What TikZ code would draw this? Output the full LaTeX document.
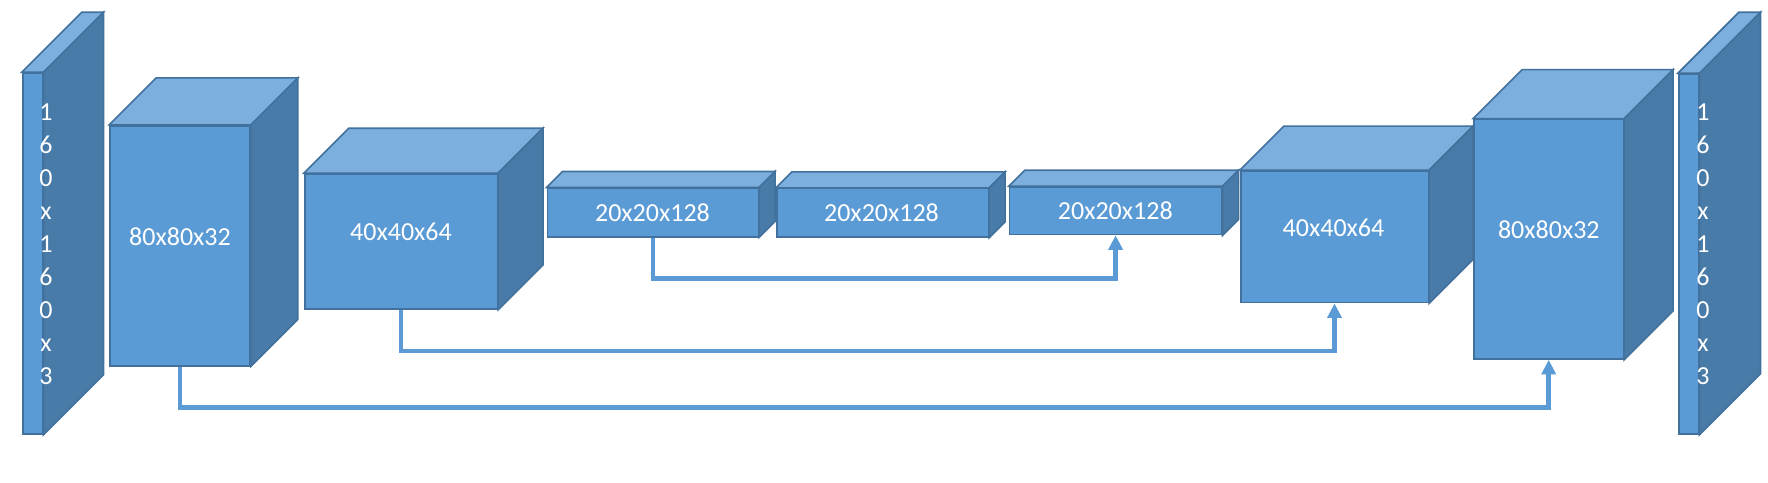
\documentclass[tikz,border=0pt]{standalone}
\usepackage{fontspec}
\setmainfont{Carlito}
\usepackage{tikz}
\usetikzlibrary{arrows.meta}
\definecolor{frontblue}{HTML}{5B9BD5}
\definecolor{topblue}{HTML}{7DAFDE}
\definecolor{sideblue}{HTML}{497BA9}
\definecolor{edgeblue}{HTML}{41719C}
\tikzstyle{front} = [rectangle, draw=edgeblue, fill=frontblue,
    line width=1.6pt, inner sep=0pt]
\tikzstyle{topface} = [draw=edgeblue, fill=topblue, line width=1.6pt]
\tikzstyle{sideface} = [draw=edgeblue, fill=sideblue, line width=1.6pt]
\tikzstyle{dimtext} = [text=white, inner sep=0pt,
    font=\fontsize{26}{33}\selectfont]
\tikzstyle{line} = [draw=frontblue, line width=4.5pt,
    -{Triangle[length=14.5pt, width=14pt]}]
% top and side faces of a layer, #1 = front node, #2 = depth
\newcommand{\layerfaces}[2]{
  \path [topface] (#1.north west) -- ++(#2,-#2)
     -- ([shift={(#2,-#2)}]#1.north east) -- (#1.north east) -- cycle;
  \path [sideface] (#1.north east) -- ++(#2,-#2)
     -- ([shift={(#2,-#2)}]#1.south east) -- (#1.south east) -- cycle;
}

\begin{document}
\begin{tikzpicture}[x=1pt, y=-1pt]
      \useasboundingbox (0,0) rectangle (1768,482);

      \node [front, minimum width=20pt, minimum height=361pt] (input) at (32.7,253.5) {};
      \layerfaces{input}{60}
      \node [dimtext, align=center] (inputtext) at (46,244.5)
         {1\\6\\0\\x\\1\\6\\0\\x\\3};

      \node [front, minimum width=140pt, minimum height=240pt] (enc1) at (180,245.7) {};
      \layerfaces{enc1}{47}
      \node [dimtext] (enc1text) at (180,237) {80x80x32};

      \node [front, minimum width=192.6pt, minimum height=135pt] (enc2) at (401,241.5) {};
      \layerfaces{enc2}{45}
      \node [dimtext] (enc2text) at (401,231.7) {40x40x64};

      \node [front, minimum width=211pt, minimum height=48.4pt] (mid1) at (652.8,212.5) {};
      \layerfaces{mid1}{16}
      \node [dimtext] (mid1text) at (652.5,212.7) {20x20x128};

      \node [front, minimum width=211.6pt, minimum height=48.3pt] (mid2) at (882.5,212.8) {};
      \layerfaces{mid2}{16}
      \node [dimtext] (mid2text) at (881.5,212.7) {20x20x128};

      \node [front, minimum width=212.2pt, minimum height=47.5pt] (mid3) at (1115.6,210.8) {};
      \layerfaces{mid3}{16}
      \node [dimtext] (mid3text) at (1115.3,211.2) {20x20x128};

      \node [front, minimum width=187.6pt, minimum height=131.7pt] (dec2) at (1334.5,236.8) {};
      \layerfaces{dec2}{44}
      \node [dimtext] (dec2text) at (1333.5,227.7) {40x40x64};

      \node [front, minimum width=149.3pt, minimum height=239.7pt] (dec1) at (1548.7,239.2) {};
      \layerfaces{dec1}{49}
      \node [dimtext] (dec1text) at (1548.8,229.5) {80x80x32};

      \node [front, minimum width=20pt, minimum height=360pt] (output) at (1688.7,254) {};
      \layerfaces{output}{61}
      \node [dimtext, align=center] (outputtext) at (1703,244.5)
         {1\\6\\0\\x\\1\\6\\0\\x\\3};

      % skip connections
      \path [line] (mid1.south) -- ++(0,41) -| (mid3.south);
      \path [line] (enc2.south) -- ++(0,41) -| (dec2.south);
      \path [line] (enc1.south) -- ++(0,41) -| (dec1.south);
\end{tikzpicture}
\end{document}
